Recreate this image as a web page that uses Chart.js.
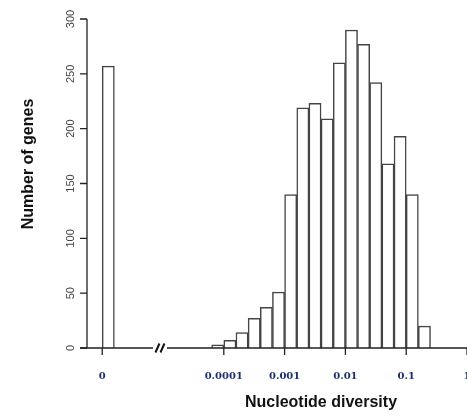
<!DOCTYPE html>
<html>
<head>
<meta charset="utf-8">
<script src="https://cdn.jsdelivr.net/npm/chart.js@4"></script>
<style>
html, body { margin: 0; padding: 0; background: #fff; overflow: hidden; }
#wrap { width: 467px; height: 420px; position: relative; }
</style>
</head>
<body>
<div id="wrap"><canvas id="hist"></canvas></div>
<script>
// x position = log10(nucleotide diversity); the "0" class sits left of the axis break
var tickPos = [-6, -4, -3, -2, -1, 0];
var tickLabels = ['0', '0.0001', '0.001', '0.01', '0.1', '1'];
var yTicks = [0, 50, 100, 150, 200, 250, 300];

var zeroBin = -5.9;      // bar for diversity == 0
var zeroCount = 257;

var binCentres = [-4.1, -3.9, -3.7, -3.5, -3.3, -3.1, -2.9, -2.7, -2.5, -2.3, -2.1, -1.9, -1.7, -1.5, -1.3, -1.1, -0.9, -0.7];
var counts = [3, 7, 14, 27, 37, 51, 140, 219, 223, 209, 260, 290, 277, 242, 168, 193, 140, 20];

var breakAt = -5.05;     // where the "//" goes on the x axis

var points = [{x: zeroBin, y: zeroCount}];
binCentres.forEach(function(c, i) { points.push({x: c, y: counts[i]}) });

var axesPlugin = {
    id: 'rAxes',
    afterDraw: function(chart) {
        var ctx = chart.ctx;
        var xs = chart.scales.x, ys = chart.scales.y;
        var area = chart.chartArea;
        var y0 = ys.getPixelForValue(0);
        ctx.save();
        ctx.strokeStyle = '#222';
        ctx.lineWidth = 1.3;

        // y axis + ticks
        ctx.beginPath();
        ctx.moveTo(area.left, ys.getPixelForValue(300));
        ctx.lineTo(area.left, y0);
        yTicks.forEach(function(v) {
            var py = ys.getPixelForValue(v);
            ctx.moveTo(area.left, py);
            ctx.lineTo(area.left - 7, py);
        });
        ctx.stroke();

        // x axis with a break
        var bx = xs.getPixelForValue(breakAt);
        ctx.beginPath();
        ctx.moveTo(area.left - 7, y0);
        ctx.lineTo(bx - 7, y0);
        ctx.moveTo(bx + 7, y0);
        ctx.lineTo(area.right, y0);
        tickPos.forEach(function(v) {
            var px = xs.getPixelForValue(v);
            ctx.moveTo(px, y0);
            ctx.lineTo(px, y0 + 7);
        });
        ctx.stroke();

        ctx.lineWidth = 2;
        ctx.strokeStyle = '#111';
        ctx.beginPath();
        ctx.moveTo(bx - 4.5, y0 + 4.5);
        ctx.lineTo(bx - 0.5, y0 - 4.5);
        ctx.moveTo(bx + 0.5, y0 + 4.5);
        ctx.lineTo(bx + 4.5, y0 - 4.5);
        ctx.stroke();

        // y tick labels, rotated like R
        ctx.fillStyle = '#444';
        ctx.font = '11px "Liberation Sans", Arial, sans-serif';
        ctx.textAlign = 'center';
        ctx.textBaseline = 'alphabetic';
        yTicks.forEach(function(v) {
            ctx.save();
            ctx.translate(area.left - 13, ys.getPixelForValue(v));
            ctx.rotate(-Math.PI / 2);
            ctx.fillText(String(v), 0, 0);
            ctx.restore();
        });

        // x tick labels
        ctx.fillStyle = '#1f2f6e';
        ctx.font = 'bold 10px "DejaVu Serif", serif';
        tickPos.forEach(function(v, i) {
            ctx.fillText(tickLabels[i], xs.getPixelForValue(v), y0 + 31);
        });

        // axis titles
        ctx.fillStyle = '#111';
        ctx.font = 'bold 16px "Liberation Sans", Arial, sans-serif';
        ctx.fillText('Nucleotide diversity', 321, 407);
        ctx.save();
        ctx.translate(33, 164);
        ctx.rotate(-Math.PI / 2);
        ctx.fillText('Number of genes', 0, 0);
        ctx.restore();

        ctx.restore();
    }
};

var ctx = document.getElementById('hist');
var myChart = new Chart(ctx, {
    type: 'bar',
    data: {
        datasets: [{
            data: points,
            backgroundColor: '#ffffff',
            borderColor: '#444444',
            borderWidth: 1.5,
            borderSkipped: 'start',
            barPercentage: 1,
            categoryPercentage: 1
        }]
    },
    options: {
        responsive: true,
        maintainAspectRatio: false,
        animation: false,
        layout: {padding: {top: 19, right: 0, left: 0, bottom: 0}},
        plugins: {legend: {display: false}, tooltip: {enabled: false}},
        scales: {
            x: {
                type: 'linear', min: -6.25, max: 0, offset: false,
                grid: {display: false}, border: {display: false},
                ticks: {display: false},
                afterFit: function(s) { s.height = 72 }
            },
            y: {
                min: 0, max: 300,
                grid: {display: false}, border: {display: false},
                ticks: {display: false},
                afterFit: function(s) { s.width = 87 }
            }
        }
    },
    plugins: [axesPlugin]
});
</script>
</body>
</html>
